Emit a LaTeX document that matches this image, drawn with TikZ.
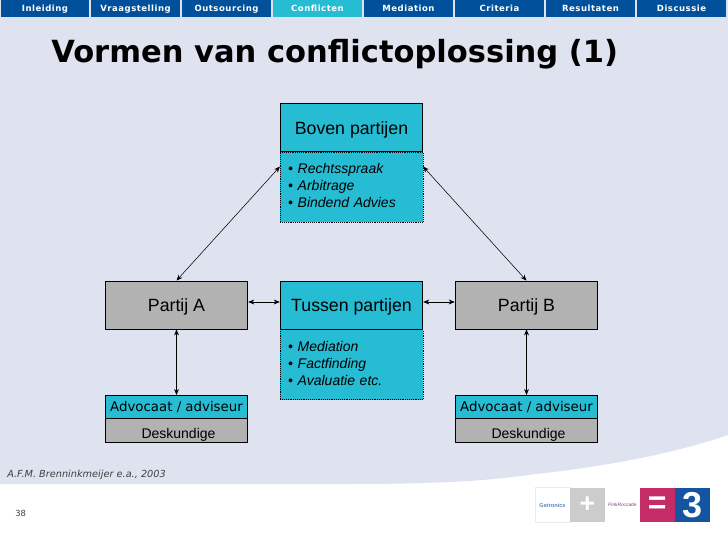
\documentclass[tikz,border=0pt]{standalone}
\usepackage{fontspec}
\setmainfont{Liberation Sans}
\newfontfamily\verafont{DejaVu Sans}
\newfontfamily\tabfont[LetterSpace=6]{DejaVu Sans}
\usetikzlibrary{arrows.meta, positioning}
\definecolor{slidebg}{RGB}{223, 227, 240}
\definecolor{tabblue}{RGB}{0, 80, 155}
\definecolor{tabcyan}{RGB}{38, 188, 212}
\definecolor{boxgrey}{RGB}{178, 178, 178}
\definecolor{logored}{RGB}{196, 44, 104}
\definecolor{logoblue}{RGB}{20, 84, 160}

\begin{document}
\begin{tikzpicture}[
        x=0.75pt, y=-0.75pt,
        tabbox/.style={rectangle, fill=tabblue, text=white, minimum width=66.2pt,
                      inner sep=0pt, text height=9pt, text depth=4pt,
                      font=\tabfont\bfseries\fontsize{6.4}{8}\selectfont},
        mainbox/.style={rectangle, draw, semithick, minimum width=107pt, inner sep=0pt,
                      text height=23.2pt, text depth=12.8pt, font=\fontsize{13.3}{15}\selectfont},
        listbox/.style={rectangle, draw, densely dotted, fill=tabcyan, minimum width=107pt, minimum height=52.5pt,
                      inner xsep=6pt, inner ysep=3pt, align=left, text width=95pt,
                      font=\itshape\fontsize{10.5}{12.8}\selectfont},
        advobox/.style={rectangle, draw, semithick, fill=tabcyan, minimum width=107pt, inner sep=0pt,
                      text height=12pt, text depth=5pt, font=\verafont\fontsize{10}{12}\selectfont},
        deskbox/.style={rectangle, draw, semithick, fill=boxgrey, minimum width=107pt, inner sep=0pt,
                      text height=14.6pt, text depth=2.9pt, execute at begin node=\hspace*{3pt},
                      font=\fontsize{10.5}{12}\selectfont},
        logobox/.style={rectangle, minimum width=26.2pt, minimum height=26pt, inner sep=0pt, outer sep=0pt},
        arrow/.style={{Stealth[length=4.5pt, width=3.6pt]}-{Stealth[length=4.5pt, width=3.6pt]}},
    ]
        % slide background
        \fill[white] (0,0) rectangle (728,541);
        \fill[slidebg] (0,0) -- (728,0) -- (728,435) .. controls (660,458) and (590,468) .. (528,475)
            .. controls (480,482) and (420,484) .. (350,484) -- (0,484) -- cycle;
        \path[use as bounding box] (0,0) rectangle (728,541);

        % tabs
        \node[tabbox] (inleiding) at (45,8.5) {Inleiding};
        \node[tabbox] (vraag) at (135.5,8.5) {Vraagstelling};
        \node[tabbox] (outsourcing) at (226.5,8.5) {Outsourcing};
        \node[tabbox, fill=tabcyan] (conflicten) at (317.5,8.5) {Conflicten};
        \node[tabbox] (mediation) at (408.5,8.5) {Mediation};
        \node[tabbox] (criteria) at (499.5,8.5) {Criteria};
        \node[tabbox] (resultaten) at (590.5,8.5) {Resultaten};
        \node[tabbox] (discussie) at (681.5,8.5) {Discussie};

        \node[anchor=base west, inner sep=0pt, font=\verafont\bfseries\fontsize{22.9}{26}\selectfont] (title) at (51,63) {Vormen van conflictoplossing (1)};

        % boxes
        \node[mainbox, fill=tabcyan] (boven) at (351.5,127.5) {Boven partijen};
        \node[listbox, below=0pt of boven] (bovenlist) {\textbullet\ Rechtsspraak\\\textbullet\ Arbitrage\\\textbullet\ Bindend Advies\\[-10.5pt]\mbox{}};
        \node[mainbox, fill=tabcyan] (tussen) at (351.5,305) {Tussen partijen};
        \node[listbox, below=0pt of tussen] (tussenlist) {\textbullet\ Mediation\\\textbullet\ Factfinding\\\textbullet\ Avaluatie etc.\\[-10.5pt]\mbox{}};
        \node[mainbox, fill=boxgrey] (partija) at (176.5,305) {Partij A};
        \node[mainbox, fill=boxgrey] (partijb) at (526.5,305) {Partij B};

        \node[advobox, anchor=north] (advoa) at (176.5,395) {Advocaat / adviseur};
        \node[deskbox, below=0pt of advoa] (deska) {Deskundige};
        \node[advobox, anchor=north] (advob) at (526.5,395) {Advocaat / adviseur};
        \node[deskbox, below=0pt of advob] (deskb) {Deskundige};

        % connectors
        \coordinate[below=11pt of bovenlist.north west] (tipa);
        \coordinate[below=11pt of bovenlist.north east] (tipb);
        \draw[arrow] (partija.north) -- (tipa);
        \draw[arrow] (partijb.north) -- (tipb);
        \draw[arrow] ([yshift=2.25pt]partija.east) -- ([yshift=2.25pt]tussen.west);
        \draw[arrow] ([yshift=2.25pt]partijb.west) -- ([yshift=2.25pt]tussen.east);
        \draw[arrow] (partija.south) -- (advoa.north);
        \draw[arrow] (partijb.south) -- (advob.north);

        % footer
        \node[anchor=west, inner sep=0pt, font=\verafont\itshape\fontsize{7.3}{9}\selectfont, text=black!75] (bron) at (7,475) {A.F.M. Brenninkmeijer e.a., 2003};
        \node[anchor=west, inner sep=0pt, font=\verafont\fontsize{6.3}{8}\selectfont, text=black!75] (pagina) at (15,513) {38};

        % logo
        \node[logobox, fill=white, draw=black!8, font=\bfseries\fontsize{4.2}{5}\selectfont, text=logoblue!70] (getronics) at (552.5,505) {Getronics};
        \node[logobox, fill=black!20, font=\bfseries\fontsize{20}{20}\selectfont, text=white, right=0pt of getronics] (plus) {+};
        \node[logobox, fill=white, font=\itshape\fontsize{3.6}{5}\selectfont, text=logored!70!logoblue, right=0pt of plus] (pink) {PinkRoccade};
        \node[logobox, fill=logored, font=\bfseries\fontsize{24}{24}\selectfont, text=white, right=0pt of pink] (equals) {=};
        \node[logobox, fill=logoblue, font=\bfseries\fontsize{27}{27}\selectfont, text=white, right=0pt of equals] (three) {3};
    \end{tikzpicture}
\end{document}
